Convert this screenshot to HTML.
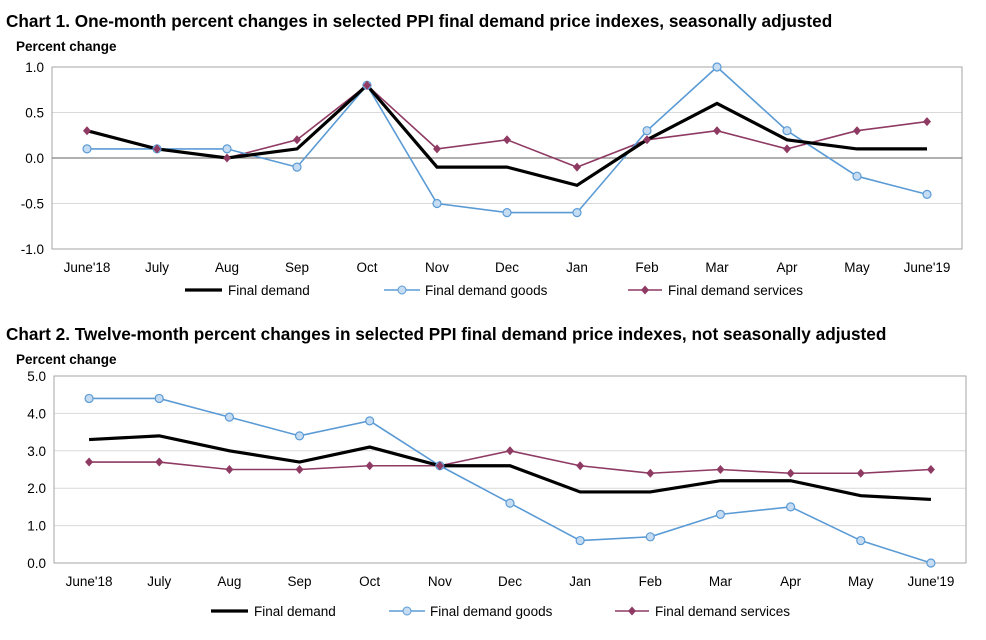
<!DOCTYPE html>
<html><head><meta charset="utf-8"><style>
body{margin:0;background:#fff;width:986px;height:635px;overflow:hidden}
svg{font-family:"Liberation Sans",Arial,sans-serif}
</style></head><body>
<svg id="s" width="986" height="635">
<text x="6" y="27" font-size="17.2" font-weight="bold">Chart 1. One-month percent changes in selected PPI final demand price indexes, seasonally adjusted</text>
<text x="16" y="51" font-size="13.5" font-weight="bold">Percent change</text>
<text x="6" y="340" font-size="17.2" font-weight="bold">Chart 2. Twelve-month percent changes in selected PPI final demand price indexes, not seasonally adjusted</text>
<text x="16" y="364" font-size="13.5" font-weight="bold">Percent change</text>
</svg>
<script>
const categories1=["June'18","July","Aug","Sep","Oct","Nov","Dec","Jan","Feb","Mar","Apr","May","June'19"];
const fd1=[0.3,0.1,0.0,0.1,0.8,-0.1,-0.1,-0.3,0.2,0.6,0.2,0.1,0.1];
const goods1=[0.1,0.1,0.1,-0.1,0.8,-0.5,-0.6,-0.6,0.3,1.0,0.3,-0.2,-0.4];
const serv1=[0.3,0.1,0.0,0.2,0.8,0.1,0.2,-0.1,0.2,0.3,0.1,0.3,0.4];
const ticks1=[1.0,0.5,0.0,-0.5,-1.0];
const categories2=["June'18","July","Aug","Sep","Oct","Nov","Dec","Jan","Feb","Mar","Apr","May","June'19"];
const fd2=[3.3,3.4,3.0,2.7,3.1,2.6,2.6,1.9,1.9,2.2,2.2,1.8,1.7];
const goods2=[4.4,4.4,3.9,3.4,3.8,2.6,1.6,0.6,0.7,1.3,1.5,0.6,0.0];
const serv2=[2.7,2.7,2.5,2.5,2.6,2.6,3.0,2.6,2.4,2.5,2.4,2.4,2.5];
const ticks2=[5.0,4.0,3.0,2.0,1.0,0.0];
const NS="http://www.w3.org/2000/svg",svg=document.getElementById('s');
function mk(t,a,p){const e=document.createElementNS(NS,t);for(const k in a)e.setAttribute(k,a[k]);(p||svg).appendChild(e);return e;}
const GC="#5b9bd5",SC="#8e3a63";
function chart(id,cats,fd,goods,serv,ticks,L,R,T,B,ymin,ymax,zeroLine,legY,legX){
 const g=mk('g',{});
 
 
 const n=cats.length,step=(R-L)/n;
 const x=i=>L+step*(i+0.5), y=v=>T+(ymax-v)/(ymax-ymin)*(B-T);
 ticks.forEach(t=>{
  const gl=mk('line',{x1:L,x2:R,y1:y(t),y2:y(t),stroke:'#d9d9d9','stroke-width':1},g);
  
  
  const tx=mk('text',{x:L-8,y:y(t)+5,'text-anchor':'end','font-size':13.5},g);tx.textContent=t.toFixed(1);
  
  
 });
 const bd=mk('rect',{x:L,y:T,width:R-L,height:B-T,fill:'none',stroke:'#a6a6a6'},g);
 
 
 if(zeroLine){const z=mk('line',{x1:L,x2:R,y1:y(0),y2:y(0),stroke:'#808080','stroke-width':1.2},g);
  
  }
 cats.forEach((c,i)=>{const t=mk('text',{x:x(i),y:B+23,'text-anchor':'middle','font-size':13.5},g);t.textContent=c;
  
  });
 const pts=a=>a.map((v,i)=>x(i)+','+y(v)).join(' ');
 const l1=mk('polyline',{points:pts(serv),fill:'none',stroke:SC,'stroke-width':1.6},g);
 
 
 const l2=mk('polyline',{points:pts(goods),fill:'none',stroke:GC,'stroke-width':1.6},g);
 
 
 const l3=mk('polyline',{points:pts(fd),fill:'none',stroke:'#000','stroke-width':3.2},g);
 
 
 goods.forEach((v,i)=>{const c=mk('circle',{cx:x(i),cy:y(v),r:4,fill:'#c6dcf2',stroke:GC,'stroke-width':1.2},g);
  
  });
 serv.forEach((v,i)=>{const d=mk('path',{d:`M${x(i)},${y(v)-4.5}l4,4.5l-4,4.5l-4,-4.5z`,fill:SC},g);
  
  });
 const [a,b,c]=legX;
 const e1=mk('line',{x1:a,x2:a+37,y1:legY,y2:legY,stroke:'#000','stroke-width':3.2},g);
 
 let t=mk('text',{x:a+43,y:legY+5,'font-size':13.5},g);t.textContent='Final demand';
 
 const e2=mk('line',{x1:b,x2:b+36,y1:legY,y2:legY,stroke:GC,'stroke-width':1.6},g);
 
 mk('circle',{cx:b+18,cy:legY,r:4,fill:'#c6dcf2',stroke:GC},g);
 t=mk('text',{x:b+41,y:legY+5,'font-size':13.5},g);t.textContent='Final demand goods';
 
 const e3=mk('line',{x1:c,x2:c+34,y1:legY,y2:legY,stroke:SC,'stroke-width':1.6},g);
 
 mk('path',{d:`M${c+17},${legY-4.5}l4,4.5l-4,4.5l-4,-4.5z`,fill:SC},g);
 t=mk('text',{x:c+40,y:legY+5,'font-size':13.5},g);t.textContent='Final demand services';
 
}
chart('chart1',categories1,fd1,goods1,serv1,ticks1,52,962,67,249,-1,1,true,290,[185,384,628]);
chart('chart2',categories2,fd2,goods2,serv2,ticks2,54,966,376,563,0,5,false,611,[211,389,615]);
</script>
</body></html>
